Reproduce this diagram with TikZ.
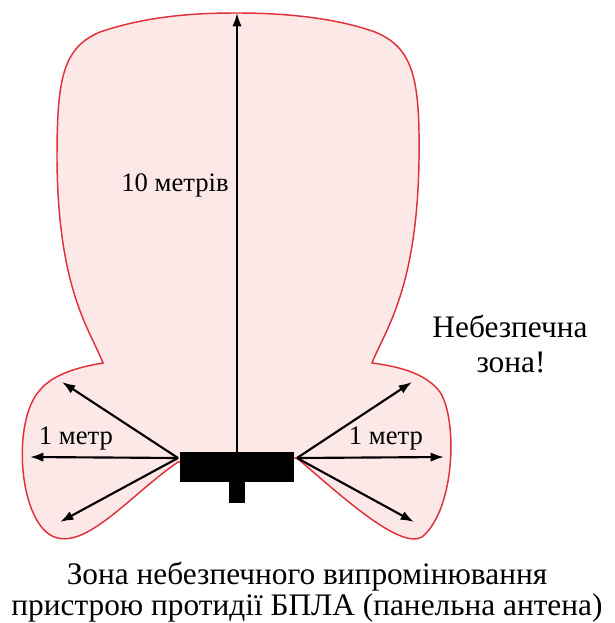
\documentclass[tikz,border=0pt]{standalone}
\usepackage{fontspec}
\setmainfont{Liberation Serif}
\newfontfamily\timesfont{Liberation Serif}
\usetikzlibrary{arrows.meta}
\definecolor{zonefill}{HTML}{FDE8E8}
\definecolor{zoneline}{HTML}{E0303A}
\tikzset{
  ray/.style={line width=1.6pt,-{Latex[length=10pt,width=7pt]}},
  lbl/.style={inner sep=0pt,anchor=base,font=\timesfont\fontsize{20}{23}\selectfont},
  note/.style={inner sep=0pt,anchor=base,font=\timesfont\fontsize{23.5}{26}\selectfont}
}

\begin{document}
\begin{tikzpicture}[x=.75pt,y=-.75pt,line width=.5pt]
\path[use as bounding box] (0,0) rectangle (614,623);
% danger zone outline
\draw[zoneline,fill=zonefill,line width=1.1pt] (178,462)
  .. controls (130,495) and (85,552) .. (52,536)
  .. controls (18,518) and (12,420) .. (40,390)
  .. controls (55,372) and (85,366) .. (103,363)
  .. controls (90,330) and (58,290) .. (57,160)
  .. controls (57,80) and (62,48) .. (100,32)
  .. controls (150,15) and (200,13) .. (237,13)
  .. controls (275,13) and (330,16) .. (375,32)
  .. controls (414,48) and (420,80) .. (419,160)
  .. controls (417,290) and (385,330) .. (372,363)
  .. controls (395,366) and (425,372) .. (440,392)
  .. controls (458,420) and (455,510) .. (422,537)
  .. controls (400,550) and (340,495) .. (297,458) -- cycle;
% antenna
\node[fill=black,inner sep=0pt,minimum width=12pt,minimum height=16pt] (stem) at (237,492) {};
\node[fill=black,inner sep=0pt,minimum width=86pt,minimum height=22.5pt] (ant) at (237,467) {};
\coordinate (lsrc) at (178,458);
\coordinate (rsrc) at (297,458);
\coordinate (top) at (237,13);
\coordinate (lup) at (62,382);
\coordinate (lmid) at (30,457);
\coordinate (ldn) at (60,522);
\coordinate (rup) at (412,382);
\coordinate (rmid) at (444,457);
\coordinate (rdn) at (414,522);
\draw[ray] (ant.north) -- (top);
\draw[ray] (lsrc) -- (lup);
\draw[ray] (lsrc) -- (lmid);
\draw[ray] (lsrc) -- (ldn);
\draw[ray] (rsrc) -- (rup);
\draw[ray] (rsrc) -- (rmid);
\draw[ray] (rsrc) -- (rdn);
% labels
\node[lbl,anchor=base east] (ten) at (229,192) {10 метрів};
\node[lbl] (lone) at (76,444) {1 метр};
\node[lbl] (rone) at (386,444) {1 метр};
\node[note] (warn1) at (510,337) {Небезпечна};
\node[note] (warn2) at (511,372) {зона!};
\node[note] (cap1) at (307,584) {Зона небезпечного випромінювання};
\node[note] (cap2) at (307,615) {пристрою протидії БПЛА (панельна антена)};
\end{tikzpicture}
\end{document}
